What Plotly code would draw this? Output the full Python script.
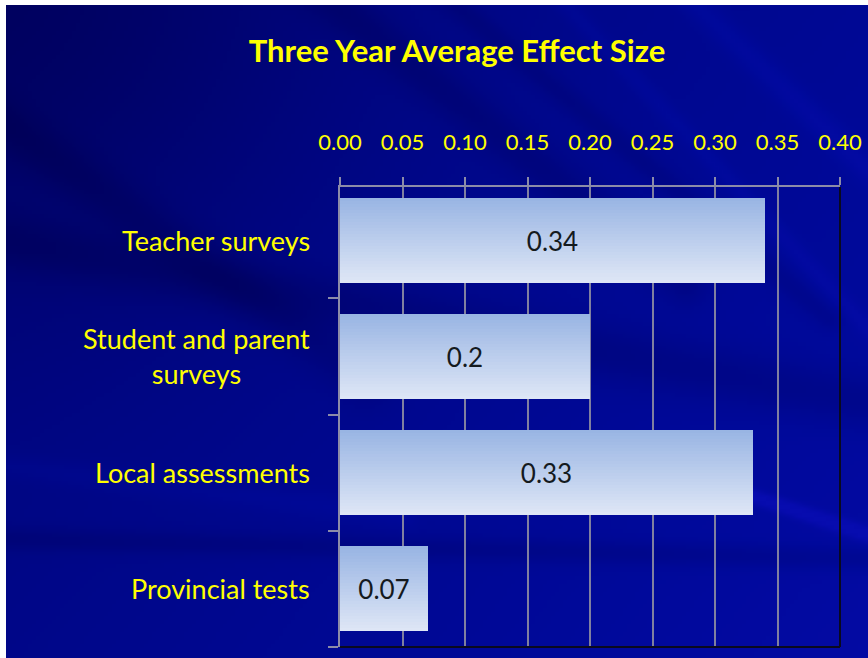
import base64, math, struct, zlib
import plotly.graph_objects as go

# ---------------- data ----------------
categories = ["Teacher surveys", "Student and parent surveys", "Local assessments", "Provincial tests"]
category_labels = ["Teacher surveys", "Student and parent<br>surveys", "Local assessments", "Provincial tests"]
effect_sizes = [0.34, 0.2, 0.33, 0.07]
value_labels = ["0.34", "0.2", "0.33", "0.07"]
x_ticks = [0.00, 0.05, 0.10, 0.15, 0.20, 0.25, 0.30, 0.35, 0.40]

# page offset of the slide (white strip on top/left in the reference)
OX, OY = 6, 5
W, H = 868 - OX, 658 - OY

def px(x):  # absolute page x -> paper fraction
    return (x - OX) / W

def py(y):  # absolute page y -> paper fraction (from bottom)
    return 1 - (y - OY) / H

# ---------------- background (generated PNG) ----------------
def make_png(w, h, fn):
    raw = bytearray()
    for j in range(h):
        raw.append(0)
        for i in range(w):
            raw.extend(fn(i * W / w, j * H / h))
    def chunk(t, d):
        c = struct.pack(">I", len(d)) + t + d
        return c + struct.pack(">I", zlib.crc32(t + d) & 0xffffffff)
    ihdr = struct.pack(">IIBBBBB", w, h, 8, 2, 0, 0, 0)
    return b"\x89PNG\r\n\x1a\n" + chunk(b"IHDR", ihdr) + chunk(b"IDAT", zlib.compress(bytes(raw), 9)) + chunk(b"IEND", b"")

streaks = [  # x0, y0, x1, y1, width, amount
    (0, 120, 300, 330, 25, -0.18),
    (0, 235, 868, 396, 28, -0.22),
    (0, 532, 868, 552, 12, -0.18),
    (330, 0, 620, 230, 22, -0.20),
    (450, 0, 760, 260, 12, -0.15),
    (690, 0, 868, 170, 14, 0.15),
    (560, 0, 868, 330, 10, 0.12),
    (740, 488, 868, 530, 7, 0.35),
    (0, 460, 330, 500, 14, 0.10),
]

def seg_dist(qx_, qy_, x0, y0, x1, y1):
    dx, dy = x1 - x0, y1 - y0
    t = ((qx_ - x0) * dx + (qy_ - y0) * dy) / (dx * dx + dy * dy)
    t = max(-0.2, min(1.2, t))
    qx, qy = x0 + t * dx, y0 + t * dy
    return math.hypot(qx_ - qx, qy_ - qy)

def bg(x, y):
    u, v = x / W, y / H
    t = 0.5 + 0.35 * u + 0.2 * v - 0.35 * math.exp(-((u / 0.35) ** 2 + (v / 0.45) ** 2))
    for x0, y0, x1, y1, wd, a in streaks:
        d = seg_dist(x, y, x0, y0, x1, y1)
        t += a * math.exp(-(d / wd) ** 2)
    t = max(0.0, min(1.2, t))
    r = int(max(0, min(255, 25 * max(0, t - 0.9))))
    g = int(max(0, min(255, 10 * t)))
    b = int(max(0, min(255, 85 + 75 * t)))
    return (r, g, b)

png = make_png(216, 164, bg)
bg_uri = "data:image/png;base64," + base64.b64encode(png).decode()

# ---------------- figure ----------------
fig = go.Figure()

bar_h = 0.73
N = 28
top_c = (152, 180, 227)
bot_c = (223, 231, 246)
for i in range(N):
    t = (i + 0.5) / N  # 0 bottom -> 1 top
    col = tuple(int(round(bot_c[k] + (top_c[k] - bot_c[k]) * t)) for k in range(3))
    fig.add_trace(go.Bar(
        y=categories, x=effect_sizes, orientation="h",
        offset=-bar_h / 2 + i * bar_h / N, width=bar_h / N * 1.04 if i < N - 1 else bar_h / N,
        marker=dict(color="rgb(%d,%d,%d)" % col, line=dict(width=0)),
        hoverinfo="skip", showlegend=False,
    ))

fig.add_trace(go.Bar(
    y=categories, x=effect_sizes, orientation="h", width=bar_h,
    marker=dict(color="rgba(0,0,0,0)", line=dict(width=0)),
    text=value_labels, textposition="inside", insidetextanchor="middle",
    textfont=dict(family="Lato", size=26, color="#141a1e"),
    hovertemplate="%{y}: %{x}<extra></extra>", showlegend=False,
))

for cat, lab in zip(categories, category_labels):
    fig.add_annotation(
        x=px(312), xref="paper", xanchor="right",
        y=cat, yref="y", yanchor="middle",
        text=lab, showarrow=False, align="center",
        font=dict(family="Lato", size=27, color="#ffff00"),
    )

# dark frame on the right and bottom edges of the plot area
fig.add_shape(type="line", xref="x domain", yref="y domain", x0=1, x1=1, y0=0, y1=1,
              line=dict(color="#0a0a1e", width=2), layer="above")
fig.add_shape(type="line", xref="x domain", yref="y domain", x0=0, x1=1, y0=0, y1=0,
              line=dict(color="#0a0a1e", width=2), layer="above")

fig.update_layout(
    width=W, height=H,
    margin=dict(l=0, r=0, t=0, b=0),
    paper_bgcolor="#000890", plot_bgcolor="rgba(0,0,0,0)",
    barmode="overlay", bargap=0,
    title=dict(text="<b>Three Year Average Effect Size</b>", x=px(457), xanchor="center",
               y=py(51), yanchor="middle", yref="container",
               font=dict(family="Lato", size=31, color="#ffff00")),
    images=[dict(source=bg_uri, xref="paper", yref="paper", x=0, y=1, sizex=1, sizey=1,
                 sizing="stretch", layer="below", xanchor="left", yanchor="top")],
    xaxis=dict(
        domain=[px(340), px(840)], side="top", range=[0, 0.4],
        tickvals=x_ticks, tickformat=".2f",
        tickfont=dict(family="Lato", size=22, color="#ffff00"),
        ticks="outside", ticklen=8, tickcolor="#8c8ca8", tickwidth=1.5,
        showline=True, linecolor="#8c8ca8", linewidth=1.5,
        showgrid=True, gridcolor="#8080a0", gridwidth=1.5,
        zeroline=False, ticklabelstandoff=18, automargin=False, fixedrange=True,
    ),
    yaxis=dict(
        domain=[py(647), py(187)],
        categoryorder="array", categoryarray=categories[::-1],
        range=[-0.5, 3.457], showticklabels=False,
        ticks="outside", tickson="boundaries", ticklen=10, tickcolor="#8c8ca8", tickwidth=1.5,
        showline=True, linecolor="#8c8ca8", linewidth=1.5,
        showgrid=False, zeroline=False, automargin=False, fixedrange=True,
    ),
)

fig.write_html("out.html", config=dict(displayModeBar=False),
               post_script="document.body.style.margin='%dpx 0 0 %dpx';" % (OY, OX))
